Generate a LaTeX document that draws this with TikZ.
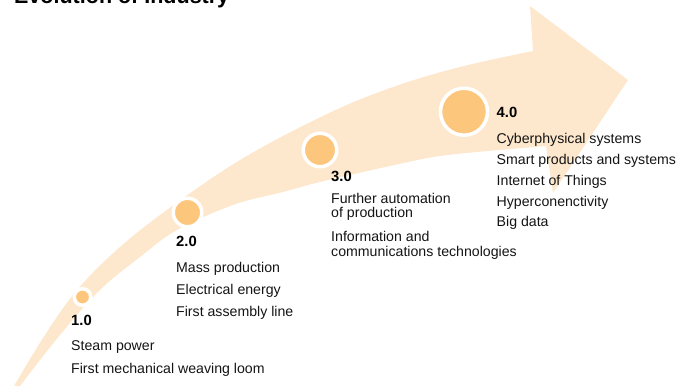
\documentclass[tikz,border=0pt]{standalone}
\usepackage{fontspec}
\setmainfont{Liberation Sans}

\definecolor{arrowpeach}{RGB}{254,232,205}
\definecolor{dotorange}{RGB}{253,198,125}
\definecolor{itemtext}{RGB}{20,20,20}

\tikzset{
  stagedot/.style={circle, fill=dotorange, draw=white, line width=3.5pt, inner sep=0pt},
  stagehead/.style={anchor=base west, inner sep=0pt, font=\fontsize{14.8}{15}\bfseries},
  stageitem/.style={anchor=base west, inner sep=0pt, text=itemtext, font=\fontsize{14.15}{15}\selectfont},
  titletext/.style={anchor=base west, inner sep=0pt, font=\fontsize{21.5}{22}\bfseries},
}

\begin{document}
\begin{tikzpicture}[x=1pt,y=-1pt]
			%%%%% START %%%%%
			\useasboundingbox (0,0) rectangle (689,386);
			
			% big curved arrow
			\fill[arrowpeach] (9,394) -- plot[smooth, tension=0.6] coordinates {(14,386) (43,338) (73,295) (110,256) (160,215) (240,160) (327,114) (393,87) (460,67) (533,51)}
				-- (530,6) -- (628,80) -- (553,193) -- (546,146)
				-- plot[smooth, tension=0.6] coordinates {(500,150) (440,156) (390,166) (320,182) (283,192) (233,205) (177,230) (140,257) (100,290) (60,335) (20,386)} -- cycle;
			
			\node[titletext] (title) at (14,3.5) {Evolution of Industry};
			
			% stage 1.0
			\node[stagedot, minimum size=16.5pt] (dot1) at (82.5,297) {};
			\node[stagehead] (head1) at (71,325) {1.0};
			\node[stageitem] (item1a) at (71,350) {Steam power};
			\node[stageitem] (item1b) at (71,373) {First mechanical weaving loom};
			
			% stage 2.0
			\node[stagedot, minimum size=28.5pt] (dot2) at (187.5,212.5) {};
			\node[stagehead] (head2) at (176,246.7) {2.0};
			\node[stageitem] (item2a) at (176,272.3) {Mass production};
			\node[stageitem] (item2b) at (176,294.3) {Electrical energy};
			\node[stageitem] (item2c) at (176,316.7) {First assembly line};
			
			% stage 3.0
			\node[stagedot, minimum size=33.5pt] (dot3) at (320,150) {};
			\node[stagehead] (head3) at (331,181) {3.0};
			\node[stageitem] (item3a) at (331,203.3) {Further automation};
			\node[stageitem] (item3b) at (331,217.7) {of production};
			\node[stageitem] (item3c) at (331,241) {Information and};
			\node[stageitem] (item3d) at (331,256) {communications technologies};
			
			% stage 4.0
			\node[stagedot, minimum size=47pt] (dot4) at (464,111.7) {};
			\node[stagehead] (head4) at (496.5,117.7) {4.0};
			\node[stageitem] (item4a) at (496.5,143.3) {Cyberphysical systems};
			\node[stageitem] (item4b) at (496.5,164) {Smart products and systems};
			\node[stageitem] (item4c) at (496.5,185) {Internet of Things};
			\node[stageitem] (item4d) at (496.5,206) {Hyperconenctivity};
			\node[stageitem] (item4e) at (496.5,226.7) {Big data};
			
			%%%%% END %%%%%
\end{tikzpicture}
\end{document}
